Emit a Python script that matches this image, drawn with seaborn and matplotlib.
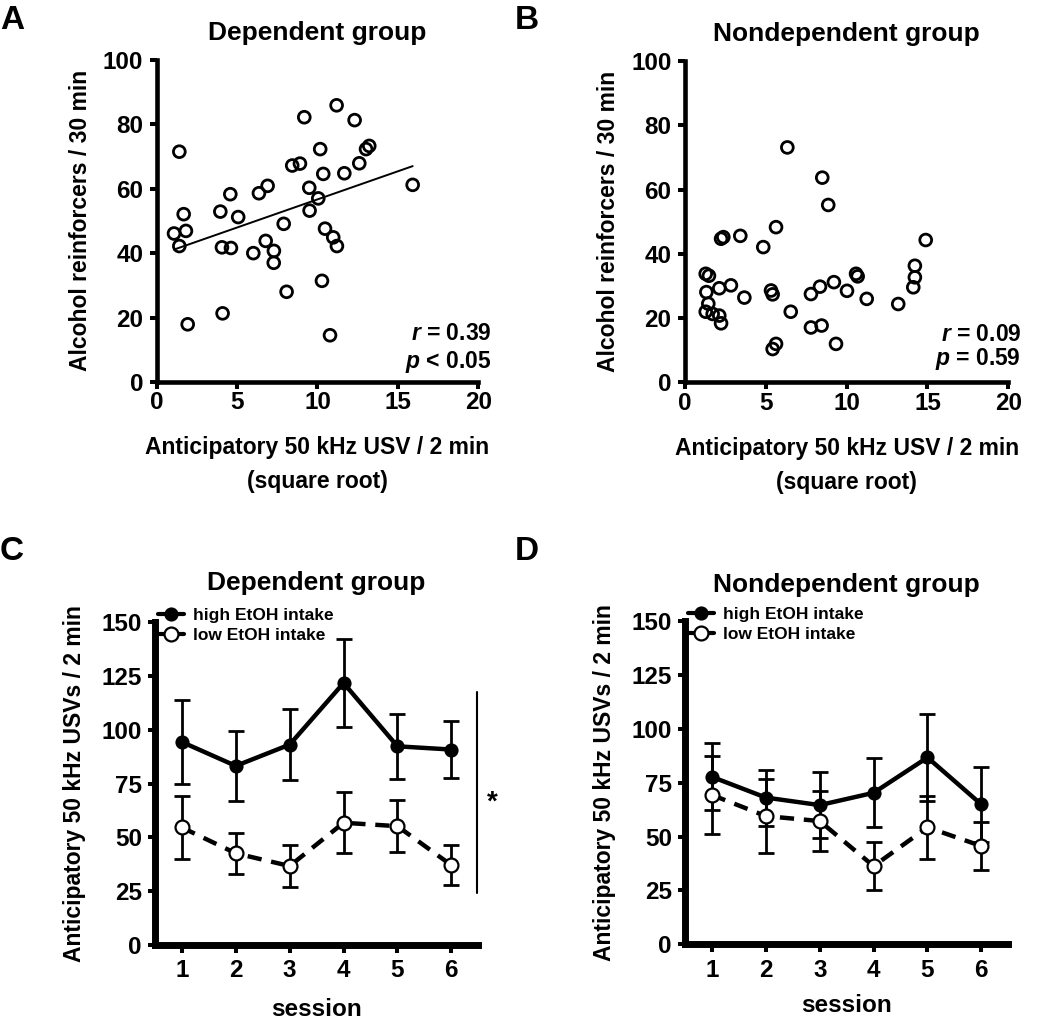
import numpy as np
import pandas as pd
import seaborn as sns
import matplotlib.pyplot as plt

# --- panels A / B : anticipatory USV (sqrt) vs alcohol reinforcers ---
dep_usv = [1.41, 1.68, 1.08, 1.82, 1.41, 1.93, 3.96, 4.58, 5.07, 4.06,
           4.62, 4.10, 6.01, 6.36, 6.90, 6.78, 7.29, 7.28, 7.90, 8.08,
           8.43, 8.91, 9.18, 9.49, 9.51, 10.05, 10.17, 10.36, 10.47, 10.98,
           11.21, 10.28, 10.78, 11.19, 11.67, 12.31, 12.60, 13.02, 13.22, 15.92]
dep_reinf = [71.5, 52.1, 46.1, 46.9, 42.2, 17.9, 52.9, 58.3, 51.2, 41.8,
             41.6, 21.3, 40.0, 58.6, 60.9, 43.8, 40.7, 37.0, 49.1, 28.0,
             67.2, 67.8, 82.2, 60.3, 53.2, 57.0, 72.3, 64.6, 47.6, 44.9,
             42.2, 31.4, 14.5, 85.9, 64.8, 81.3, 67.9, 72.3, 73.3, 61.2]

nondep_usv = [6.33, 8.49, 8.86, 5.63, 2.23, 2.37, 3.42, 4.84, 14.89,
              1.28, 1.48, 1.32, 1.44, 1.28, 1.71, 2.12, 2.23, 2.12, 2.84,
              3.67, 5.32, 5.42, 6.54, 5.42, 5.63, 7.79, 8.35, 7.79, 8.45,
              9.21, 9.34, 10.02, 10.58, 10.68, 11.24, 13.19, 14.22, 14.22, 14.12]
nondep_reinf = [73.1, 63.7, 55.2, 48.3, 44.7, 45.2, 45.6, 42.1, 44.3,
                33.8, 33.2, 28.1, 24.5, 22.0, 21.3, 20.8, 18.4, 29.3, 30.2,
                26.4, 28.6, 27.4, 22.0, 10.4, 12.0, 27.5, 29.8, 17.1, 17.7,
                31.2, 12.0, 28.5, 33.8, 33.0, 26.0, 24.4, 36.3, 32.7, 29.6]

# --- panels C / D : USVs per session, mean and SEM ---
sessions = [1, 2, 3, 4, 5, 6]
dep_high = [94.3, 83.2, 93.1, 121.7, 92.3, 90.8]
dep_high_sem = [19.4, 16.2, 16.4, 20.6, 15.2, 13.3]
dep_low = [54.6, 42.6, 36.7, 56.8, 55.2, 37.1]
dep_low_sem = [14.7, 9.5, 9.7, 14.1, 12.1, 9.3]
nondep_high = [77.7, 68.1, 64.6, 70.3, 86.7, 64.9]
nondep_high_sem = [15.5, 13.0, 15.3, 16.0, 20.4, 17.4]
nondep_low = [69.3, 59.5, 57.2, 36.3, 54.3, 45.6]
nondep_low_sem = [18.2, 17.0, 14.1, 11.0, 14.5, 11.0]

# significance bar in C
sig_x = 6.47
sig_span = [24, 117.5]

sns.set_style("ticks")
plt.rcParams['font.family'] = ['Liberation Sans', 'DejaVu Sans']
plt.rcParams['font.weight'] = 'bold'
plt.rcParams['axes.labelweight'] = 'bold'
plt.rcParams['axes.titleweight'] = 'bold'
plt.rcParams['text.color'] = 'black'
plt.rcParams['axes.labelcolor'] = 'black'
plt.rcParams['axes.titlecolor'] = 'black'
plt.rcParams['xtick.color'] = 'black'
plt.rcParams['ytick.color'] = 'black'
plt.rcParams['mathtext.fontset'] = 'custom'
plt.rcParams['mathtext.it'] = 'Liberation Sans:italic:bold'
plt.rcParams['mathtext.rm'] = 'Liberation Sans:bold'

fig = plt.figure(figsize=(10.5, 10.24), dpi=100)
axA = fig.add_axes([0.1492, 0.627, 0.3063, 0.3145])
axB = fig.add_axes([0.6524, 0.6265, 0.3079, 0.3140])
axC = fig.add_axes([0.1476, 0.0771, 0.3079, 0.3154])
axD = fig.add_axes([0.6524, 0.0778, 0.3079, 0.3157])


def style_axes(ax, spine_w, tick_len):
    sns.despine(ax=ax)
    for s in ['left', 'bottom']:
        ax.spines[s].set_linewidth(spine_w)
        ax.spines[s].set_color('black')
    ax.tick_params(axis='both', direction='out', length=tick_len, width=2.9,
                   color='black', labelsize=17.5, labelcolor='black')


def scatter_panel(ax, x, y, title, r_txt, p_txt, txt_y, fit=False):
    sns.scatterplot(x=x, y=y, ax=ax, marker='o', s=72, facecolor='none',
                    edgecolor='black', linewidth=2.0, zorder=3)
    if fit:
        sns.regplot(x=x, y=y, ax=ax, scatter=False, ci=None, truncate=True,
                    color='black', line_kws={'linewidth': 1.4})
    ax.set_xlim(0, 20)
    ax.set_ylim(0, 100)
    ax.set_xticks(range(0, 21, 5))
    ax.set_yticks(range(0, 101, 20))
    style_axes(ax, 3.3, 4.7)
    ax.tick_params(axis='x', pad=2)
    ax.tick_params(axis='y', pad=5)
    ax.set_title(title, fontsize=19, pad=14)
    ax.set_xlabel('Anticipatory 50 kHz USV / 2 min\n(square root)',
                  fontsize=16.5, labelpad=16, linespacing=1.6)
    ax.set_ylabel('Alcohol reinforcers / 30 min', fontsize=16.5, labelpad=8)
    ax.text(20.8, txt_y[0], r_txt, ha='right', va='center', fontsize=16.5)
    ax.text(20.8, txt_y[1], p_txt, ha='right', va='center', fontsize=16.5)


def session_panel(ax, high, high_sem, low, low_sem, title, title_pad, xpad):
    ax.errorbar(sessions, high, yerr=high_sem, fmt='none', ecolor='black',
                elinewidth=2.0, capsize=6, capthick=2.0, zorder=2)
    ax.errorbar(sessions, low, yerr=low_sem, fmt='none', ecolor='black',
                elinewidth=2.0, capsize=6, capthick=2.0, zorder=2)
    sns.lineplot(x=sessions, y=high, ax=ax, color='black', linewidth=3.2,
                 marker='o', markersize=9, markerfacecolor='black',
                 markeredgecolor='black', markeredgewidth=1.2,
                 label='high EtOH intake', zorder=4)
    sns.lineplot(x=sessions, y=low, ax=ax, color='black', linewidth=3.2,
                 linestyle=(0, (3.2, 2.2)), marker='o', markersize=10,
                 markerfacecolor='white', markeredgecolor='black',
                 markeredgewidth=1.6, label='low EtOH intake', zorder=3)
    ax.set_xlim(0.5, 6.5)
    ax.set_ylim(0, 150)
    ax.set_xticks(sessions)
    ax.set_yticks(range(0, 151, 25))
    style_axes(ax, 5.0, 5.4)
    ax.tick_params(axis='x', pad=5)
    ax.tick_params(axis='y', pad=4)
    ax.set_title(title, fontsize=19, pad=title_pad)
    ax.set_xlabel('session', fontsize=17.5, labelpad=xpad)
    ax.set_ylabel('Anticipatory 50 kHz USVs / 2 min', fontsize=16.5, labelpad=11)
    leg = ax.legend(loc='upper left', bbox_to_anchor=(0.01, 1.045),
                    frameon=False, fontsize=12.5, handlelength=1.5,
                    handletextpad=0.5, labelspacing=0.3, borderaxespad=0,
                    borderpad=0)
    for line in leg.get_lines():
        line.set_linestyle('-')
        line.set_linewidth(3)


scatter_panel(axA, dep_usv, dep_reinf, 'Dependent group',
              '$r$ = 0.39', '$p$ < 0.05', (15.2, 6.3), fit=True)
scatter_panel(axB, nondep_usv, nondep_reinf, 'Nondependent group',
              '$r$ = 0.09', '$p$ = 0.59', (14.8, 7.4))

session_panel(axC, dep_high, dep_high_sem, dep_low, dep_low_sem,
              'Dependent group', 23, 11)
session_panel(axD, nondep_high, nondep_high_sem, nondep_low, nondep_low_sem,
              'Nondependent group', 21, 9)

axC.plot([sig_x, sig_x], sig_span, color='black', linewidth=1.5, clip_on=False)
axC.text(6.76, 66, '*', fontsize=20, ha='center', va='center')

for lbl, x, y in [('A', 0.0, 0.995), ('B', 0.49, 0.995),
                  ('C', 0.0, 0.477), ('D', 0.49, 0.477)]:
    fig.text(x, y, lbl, fontsize=24, fontweight='bold', ha='left', va='top')

plt.savefig('out.png', dpi=100)
